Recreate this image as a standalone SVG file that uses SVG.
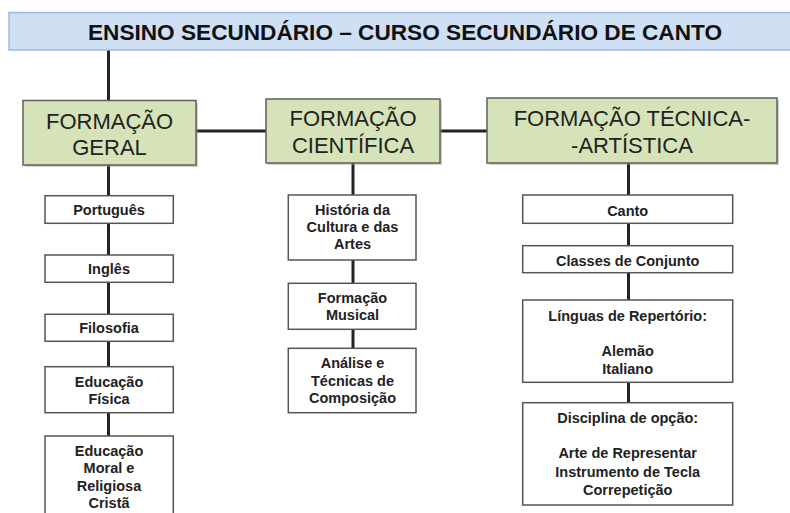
<svg xmlns="http://www.w3.org/2000/svg" width="790" height="513" viewBox="0 0 790 513">
<style>
.title{fill:#cfe0f4;stroke:#9dbbe0;stroke-width:1.5}
.green{fill:#d6e3b9;stroke:#5f5f5f;stroke-width:1.5}
.white{fill:#ffffff;stroke:#555555;stroke-width:1.5}
.shadow{fill:#9a9a9a;opacity:0.45}
.tt{font-family:"Liberation Sans",Arial,sans-serif;font-weight:bold;font-size:22.5px;fill:#111;text-anchor:middle}
.gt{font-family:"Liberation Sans",Arial,sans-serif;font-size:22px;fill:#222;text-anchor:middle}
.st{font-family:"Liberation Sans",Arial,sans-serif;font-weight:bold;font-size:14.5px;fill:#222;text-anchor:middle}
.con{stroke:#222;stroke-width:3;fill:none}
</style>
<rect width="790" height="513" fill="#ffffff"/>
<g id="connectors">
<line class="con" x1="108.5" y1="50" x2="108.5" y2="101"/>
<line class="con" x1="196" y1="131" x2="266" y2="131"/>
<line class="con" x1="440" y1="131" x2="487" y2="131"/>
<line class="con" x1="108.5" y1="165" x2="108.5" y2="436"/>
<line class="con" x1="353" y1="163" x2="353" y2="348"/>
<line class="con" x1="628.5" y1="163" x2="628.5" y2="403"/>
</g>
<g id="title">
<rect class="title" x="9" y="12.5" width="790" height="37.5"/>
<text class="tt" x="405" y="40" textLength="634" lengthAdjust="spacingAndGlyphs">ENSINO SECUNDÁRIO – CURSO SECUNDÁRIO DE CANTO</text>
</g>
<g id="formacao-geral">
<rect class="shadow" x="25" y="102.5" width="173" height="64.5"/>
<rect class="green" x="23" y="100.5" width="173" height="64.5"/>
<text class="gt" x="109.5" y="129.3">FORMAÇÃO</text>
<text class="gt" x="109.5" y="155">GERAL</text>
</g>
<g id="formacao-cientifica">
<rect class="shadow" x="268" y="101" width="174" height="64"/>
<rect class="green" x="266" y="99" width="174" height="64"/>
<text class="gt" x="353" y="126">FORMAÇÃO</text>
<text class="gt" x="353" y="152.7">CIENTÍFICA</text>
</g>
<g id="formacao-tecnica">
<rect class="shadow" x="489" y="100" width="290" height="65"/>
<rect class="green" x="487" y="98" width="290" height="65"/>
<text class="gt" x="632" y="126">FORMAÇÃO TÉCNICA-</text>
<text class="gt" x="632" y="152.7">-ARTÍSTICA</text>
</g>
<g id="portugues">
<rect class="white" x="45" y="195.7" width="128.3" height="27.6"/>
<text class="st" x="109" y="215">Português</text>
</g>
<g id="ingles">
<rect class="white" x="45" y="255" width="128.3" height="27.3"/>
<text class="st" x="109" y="274">Inglês</text>
</g>
<g id="filosofia">
<rect class="white" x="45" y="314.3" width="128.3" height="27"/>
<text class="st" x="109" y="333">Filosofia</text>
</g>
<g id="educacao-fisica">
<rect class="white" x="45" y="366.7" width="128.3" height="46"/>
<text class="st" x="109" y="386.7">Educação</text>
<text class="st" x="109" y="404">Física</text>
</g>
<g id="educacao-moral">
<rect class="white" x="45" y="436" width="128.3" height="90"/>
<text class="st" x="109" y="456">Educação</text>
<text class="st" x="109" y="473.3">Moral e</text>
<text class="st" x="109" y="491">Religiosa</text>
<text class="st" x="109" y="508.3">Cristã</text>
</g>
<g id="historia">
<rect class="white" x="288.3" y="195" width="127.7" height="65"/>
<text class="st" x="352.5" y="215">História da</text>
<text class="st" x="352.5" y="232.3">Cultura e das</text>
<text class="st" x="352.5" y="249.3">Artes</text>
</g>
<g id="formacao-musical">
<rect class="white" x="288.3" y="283.3" width="127.7" height="46"/>
<text class="st" x="352.5" y="303.3">Formação</text>
<text class="st" x="352.5" y="320">Musical</text>
</g>
<g id="analise">
<rect class="white" x="288.3" y="348.3" width="127.7" height="64.4"/>
<text class="st" x="352.5" y="368.3">Análise e</text>
<text class="st" x="352.5" y="385.7">Técnicas de</text>
<text class="st" x="352.5" y="402.7">Composição</text>
</g>
<g id="canto">
<rect class="white" x="522.7" y="195" width="210" height="28.3"/>
<text class="st" x="627.7" y="215.5">Canto</text>
</g>
<g id="classes">
<rect class="white" x="522.7" y="245.7" width="210" height="27"/>
<text class="st" x="627.7" y="266">Classes de Conjunto</text>
</g>
<g id="linguas">
<rect class="white" x="522.7" y="300" width="210" height="82.3"/>
<text class="st" x="627.7" y="320.7">Línguas de Repertório:</text>
<text class="st" x="627.7" y="355.7">Alemão</text>
<text class="st" x="627.7" y="374">Italiano</text>
</g>
<g id="disciplina">
<rect class="white" x="522.7" y="402.7" width="210" height="102.3"/>
<text class="st" x="627.7" y="423.3">Disciplina de opção:</text>
<text class="st" x="627.7" y="458.3">Arte de Representar</text>
<text class="st" x="627.7" y="476.7">Instrumento de Tecla</text>
<text class="st" x="627.7" y="495">Correpetição</text>
</g>
</svg>
